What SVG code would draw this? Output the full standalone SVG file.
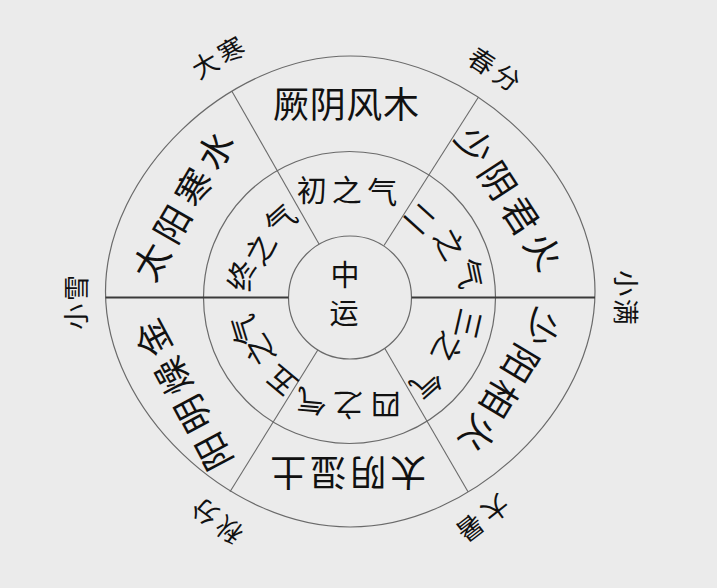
<svg xmlns="http://www.w3.org/2000/svg" width="717" height="588" viewBox="0 0 717 588">
<style>
.bg{fill:#ebebeb}
.ring{fill:none;stroke:#6a6a6a;stroke-width:1.2}
.div{stroke:#6a6a6a;stroke-width:1.1}
.axis{stroke:#3a3a3a;stroke-width:2}
text{font-family:"Noto Sans CJK SC","Noto Sans CJK JP",sans-serif;fill:#111;text-anchor:middle}
.l{font-size:36px}
.m{font-size:30px}
.c{font-size:29px}
.s{font-size:26px}
</style>
<rect class="bg" width="717" height="588"/>
<g id="rings">
<path class="ring" d="M105.5 291.5 C105.5 173.75 227.875 56 350.25 56 C472.625 56 595 173.75 595 291.5 C595 409.25 472.625 527 350.25 527 C227.875 527 105.5 409.25 105.5 291.5 Z"/>
<circle class="ring" cx="349.5" cy="297.5" r="146"/>
<circle class="ring" cx="350" cy="297.5" r="61.5"/>
</g>
<g id="dividers">
<line class="axis" x1="105.5" y1="297.5" x2="288.5" y2="297.5"/>
<line class="axis" x1="411.5" y1="297.5" x2="595" y2="297.5"/>
<line class="div" x1="231.9" y1="91.2" x2="319" y2="244"/>
<line class="div" x1="478.5" y1="97" x2="384" y2="245.5"/>
<line class="div" x1="230" y1="491.7" x2="317.8" y2="350"/>
<line class="div" x1="468" y1="491.7" x2="384.7" y2="348.3"/>
</g>
<g id="outer-ring">
<g id="jueyin" transform="translate(346 105)"><text class="l" x="-55.05 -18.35 18.35 55.05" y="13.3">厥阴风木</text></g>
<g id="shaoyin" transform="translate(508.8 198.3) rotate(57)"><text class="l" x="-63 -21 21 63" y="13.3">少阴君火</text></g>
<g id="shaoyang" transform="translate(509.7 380.8) rotate(121)"><text class="l" x="-61.5 -20.5 20.5 61.5" y="13.3">少阳相火</text></g>
<g id="taiyin" transform="translate(348.3 472) rotate(180)"><text class="l" x="-60 -20 20 60" y="13.3">太阴湿土</text></g>
<g id="yangming" transform="translate(183.3 395) rotate(242)"><text class="l" x="-64.2 -21.4 21.4 64.2" y="13.3">阳明燥金</text></g>
<g id="taiyang" transform="translate(183.3 205.8) rotate(-60)"><text class="l" x="-64.2 -21.4 21.4 64.2" y="13.3">太阳寒水</text></g>
</g>
<g id="middle-ring">
<g id="qi1"><text class="m" transform="translate(311.7 190)" y="11">初</text><text class="m" transform="translate(346.7 190)" y="11">之</text><text class="m" transform="translate(382.3 191.7)" y="11">气</text></g>
<g id="qi2"><text class="m" transform="translate(420 218) rotate(42)" y="11">二</text><text class="m" transform="translate(449.3 244) rotate(62)" y="11">之</text><text class="m" transform="translate(469 273.3) rotate(78)" y="11">气</text></g>
<g id="qi3"><text class="m" transform="translate(468 324) rotate(103)" y="11">三</text><text class="m" transform="translate(447 347.3) rotate(117)" y="11">之</text><text class="m" transform="translate(426.3 383.3) rotate(138)" y="11">气</text></g>
<g id="qi4"><text class="m" transform="translate(385.7 405) rotate(180)" y="11">四</text><text class="m" transform="translate(348.3 405) rotate(180)" y="11">之</text><text class="m" transform="translate(311.7 401) rotate(185)" y="11">气</text></g>
<g id="qi5"><text class="m" transform="translate(281.7 380.7) rotate(220)" y="11">五</text><text class="m" transform="translate(260 350) rotate(240)" y="11">之</text><text class="m" transform="translate(245 330) rotate(253)" y="11">气</text></g>
<g id="qi6"><text class="m" transform="translate(241.7 275.7) rotate(281)" y="11">终</text><text class="m" transform="translate(260.7 249.3) rotate(298)" y="11">之</text><text class="m" transform="translate(280.7 220) rotate(318)" y="11">气</text></g>
</g>
<g id="center"><text class="c" x="345" y="286">中</text><text class="c" x="344" y="324">运</text></g>
<g id="solar-terms">
<g id="dahan" transform="translate(218.3 57.8) rotate(-30)"><text class="s" x="-15 15" y="9.6">大寒</text></g>
<g id="chunfen" transform="translate(494.2 69.5) rotate(33)"><text class="s" x="-15 15" y="9.6">春分</text></g>
<g id="xiaoman" transform="translate(625.3 297.5) rotate(90)"><text class="s" x="-14.25 14.25" y="9.6">小满</text></g>
<g id="dashu" transform="translate(482.8 518.3) rotate(142)"><text class="s" x="-16 16" y="9.6">大暑</text></g>
<g id="qiufen" transform="translate(217 520.8) rotate(217)"><text class="s" x="-15 15" y="9.6">秋分</text></g>
<g id="xiaoxue" transform="translate(76.7 302.3) rotate(270)"><text class="s" x="-14.4 14.4" y="9.6">小雪</text></g>
</g>
</svg>
